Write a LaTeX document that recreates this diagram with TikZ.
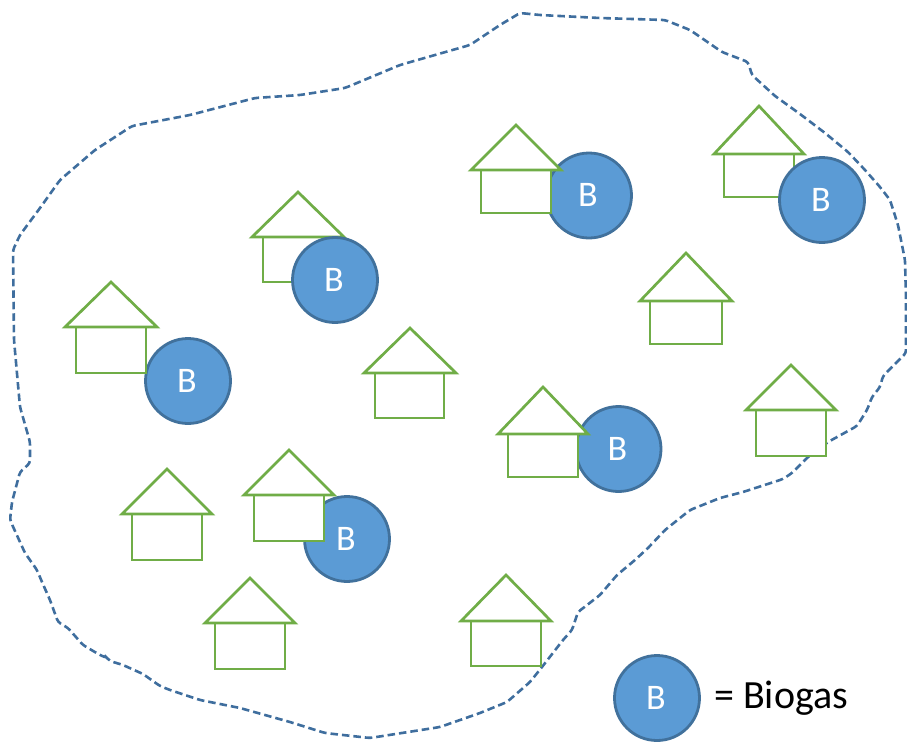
\documentclass[tikz,border=0pt]{standalone}
\usepackage{fontspec}
\setmainfont{Carlito}
\definecolor{hgreen}{HTML}{70AD47}
\definecolor{bfill}{HTML}{5B9BD5}
\definecolor{bline}{HTML}{41719C}
\definecolor{dline}{HTML}{3F6E9E}
\tikzset{
  biogas/.style={circle,draw=bline,fill=bfill,line width=2.8pt,minimum size=85pt,inner sep=0pt,text=white,font=\fontsize{36}{36}\selectfont},
  housepart/.style={draw=hgreen,fill=white,line width=2.7pt,line join=miter},
  boundary/.style={draw=dline,line width=2.6pt,dash pattern=on 7.5pt off 4pt,rounded corners=3pt}
}
\newcommand{\drawhouse}[7]{%
  \draw[housepart] (#5,#3) rectangle (#6,#4);
  \draw[housepart] (#1,#2) -- (#7,#3) -- ({2*#1-#7},#3) -- cycle;
}
\begin{document}
\begin{tikzpicture}[x=1pt,y=-1pt]
\useasboundingbox (0,0) rectangle (907,742);
\draw[boundary] (520,13) -- (540,15) -- (600,18) -- (665,20) -- (690,30) -- (722,52) -- (748,62) -- (752,75) -- (775,96) -- (800,114) -- (825,133) -- (848,152) -- (865,170) -- (880,187) -- (890,200) -- (898,225) -- (905,260) -- (906,300) -- (906,353) -- (883,376) -- (880,387) -- (872,397) -- (867,410) -- (857,426) -- (828,442) -- (808,457) -- (792,473) -- (783,479) -- (743,492) -- (720,498) -- (690,510) -- (665,530) -- (648,548) -- (635,560) -- (617,575) -- (600,595) -- (578,612) -- (572,630) -- (563,640) -- (542,667) -- (530,682) -- (507,702) -- (480,713) -- (440,727) -- (370,738) -- (325,733) -- (290,722) -- (240,708) -- (200,700) -- (170,690) -- (160,686) -- (143,674) -- (123,665) -- (110,661) -- (102,653) -- (107,658) -- (100,655) -- (83,645) -- (68,628) -- (58,622) -- (50,600) -- (42,582) -- (37,570) -- (25,553) -- (10,520) -- (12,502) -- (20,472) -- (30,463) -- (30,442) -- (20,407) -- (14,340) -- (13,250) -- (20,235) -- (40,208) -- (60,180) -- (95,150) -- (132,126) -- (190,115) -- (255,98) -- (300,95) -- (345,88) -- (400,65) -- (470,45) -- (500,25) -- cycle;

% circles behind houses
\node[biogas] (b1) at (589,195.5) {\raisebox{1pt}{B}\kern2pt};
\node[biogas] (b4) at (188,381) {\raisebox{1pt}{B}\kern2pt};
\node[biogas] (b5) at (347,539) {\raisebox{1pt}{B}\kern2pt};
\node[biogas] (b6) at (618.5,449) {\raisebox{1pt}{B}\kern2pt};

\drawhouse{516}{125}{170}{213}{481}{551}{471}
\drawhouse{111}{282}{327}{373}{76}{146}{65}
\drawhouse{289}{450}{495}{541}{254}{324}{244}
\drawhouse{543}{387}{434}{477}{508}{578}{498}
\drawhouse{759}{106}{154}{197}{724}{794}{714}
\drawhouse{298}{192}{237}{282}{263}{333}{252}
\drawhouse{410}{328}{373}{418}{375}{444}{364}
\drawhouse{686}{253}{301}{344}{650}{722}{640}
\drawhouse{791}{365}{410}{456}{756}{826}{746}
\drawhouse{167}{469}{514}{560}{132}{202}{122}
\drawhouse{250}{578}{623}{669}{215}{285}{205}
\drawhouse{506}{575}{621}{666}{471}{541}{461}

% circles in front of houses
\node[biogas] (b2) at (822,200) {\raisebox{1pt}{B}\kern2pt};
\node[biogas] (b3) at (335,280) {\raisebox{1pt}{B}\kern2pt};
\node[biogas] (legend) at (657,698) {\raisebox{1pt}{B}\kern2pt};
\node[anchor=west,inner sep=0pt,font=\fontsize{40}{40}\selectfont] (legendtext) at (714,698) {= Biogas};
\end{tikzpicture}
\end{document}
